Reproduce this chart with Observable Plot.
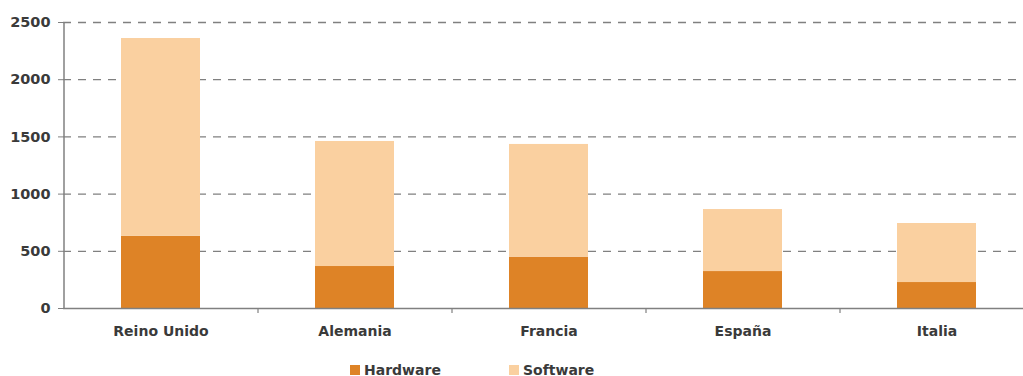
<!DOCTYPE html>
<html>
<head>
<meta charset="utf-8">
<script src="https://cdn.jsdelivr.net/npm/d3@7"></script>
<script src="https://cdn.jsdelivr.net/npm/@observablehq/plot@0.6"></script>
<style>
  html, body { margin: 0; padding: 0; background: #fff; }
  body { width: 1023px; height: 376px; overflow: hidden; font-family: "DejaVu Sans", Verdana, sans-serif; }
  #legend { position: relative; height: 31px; font-weight: bold; font-size: 14px; color: #3a3a3a; }
  .item { position: absolute; top: 17px; display: flex; align-items: center; }
  .sw { width: 10px; height: 10px; margin-right: 4px; }
</style>
</head>
<body>
<div id="chart"></div>
<div id="legend"></div>
<script>
const countries = ["Reino Unido", "Alemania", "Francia", "España", "Italia"];
const hardware = [632, 367, 449, 323, 227];
const software = [1728, 1093, 985, 542, 516];
const series = ["Hardware", "Software"];
const colors = ["#DE8326", "#FAD0A0"];
const yTicks = [0, 500, 1000, 1500, 2000, 2500];

const data = [];
countries.forEach((c, i) => {
  data.push({country: c, type: "Hardware", value: hardware[i]});
  data.push({country: c, type: "Software", value: software[i]});
});

const W = 1023, H = 345;
const xRange = [63, 1033];
const step = (xRange[1] - xRange[0]) / countries.length;
const textColor = "#3a3a3a";
const axisColor = "#808080";

const chart = Plot.plot({
  width: W,
  height: H,
  marginTop: 22,
  marginBottom: 37,
  marginLeft: 63,
  marginRight: 0,
  style: {fontFamily: "DejaVu Sans, Verdana, sans-serif", fontSize: "14px", fontWeight: "bold", color: textColor, background: "#fff"},
  x: {domain: countries, range: xRange, paddingInner: 0.593, paddingOuter: 0.2965, label: null},
  y: {domain: [0, 2500], label: null},
  color: {domain: series, range: colors},
  marks: [
    Plot.ruleY(yTicks.filter(d => d > 0), {stroke: axisColor, strokeWidth: 1.3, strokeDasharray: "8,7"}),
    Plot.barY(data, {x: "country", y: "value", fill: "type"}),
    Plot.ruleY([0], {stroke: axisColor, strokeWidth: 1.5}),
    Plot.ruleX([0], {x: () => countries[0], dx: -step / 2, stroke: axisColor, strokeWidth: 1.5, y1: 0, y2: 2500}),
    Plot.ruleX(countries.slice(1), {x: d => d, dx: -step / 2, y1: 0, y2: 0, insetBottom: -5, stroke: axisColor, strokeWidth: 1.2}),
    Plot.axisY({ticks: yTicks, tickFormat: d3.format("d"), tickSize: 5, tickPadding: 8, stroke: axisColor, fill: textColor, fontSize: 14.5, fontWeight: "bold", label: null}),
    Plot.axisX({tickSize: 0, tickPadding: 18, fill: textColor, fontSize: 14, fontWeight: "bold", label: null})
  ]
});
document.getElementById("chart").appendChild(chart);

const legend = document.getElementById("legend");
const lefts = [350, 509];
series.forEach((s, i) => {
  const it = document.createElement("div");
  it.className = "item";
  it.style.left = lefts[i] + "px";
  it.innerHTML = `<span class="sw" style="background:${colors[i]}"></span><span>${s}</span>`;
  legend.appendChild(it);
});
</script>
</body>
</html>
